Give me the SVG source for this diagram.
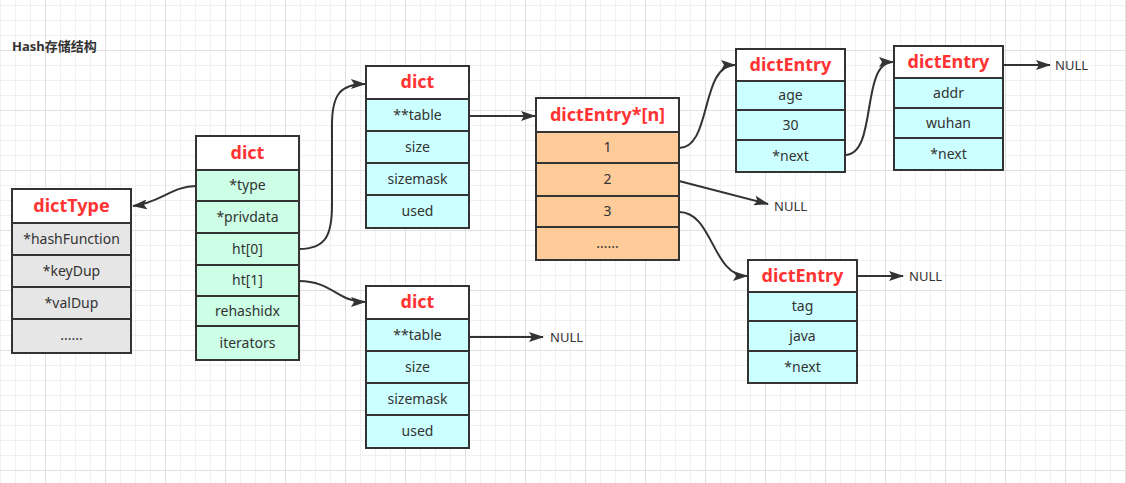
<svg xmlns="http://www.w3.org/2000/svg" width="1126" height="483" viewBox="0 0 1126 483">
<defs>
<pattern id="minor" x="0" y="5" width="15" height="15" patternUnits="userSpaceOnUse">
<path d="M0.5,0 V15 M0,0.5 H15" stroke="#f0f0f0" stroke-width="1" fill="none"/>
</pattern>
<pattern id="major" x="45" y="50" width="60" height="60" patternUnits="userSpaceOnUse">
<path d="M0.5,0 V60 M0,0.5 H60" stroke="#e0e0e0" stroke-width="1" fill="none"/>
</pattern>
<marker id="arr" viewBox="0 0 15 10" refX="14" refY="5" markerWidth="15" markerHeight="10" markerUnits="userSpaceOnUse" orient="auto">
<path d="M0,0 L15,5 L0,10 L3,5 z" fill="#333333"/>
</marker>
</defs>
<style>
.box{stroke:#333333;stroke-width:2}
.sep{stroke:#333333;stroke-width:2}
.hdr{font-family:"Noto Sans","Open Sans",sans-serif;font-weight:bold;font-size:18px;fill:#ff3333;text-anchor:middle}
.row{font-family:"Noto Sans","Open Sans",sans-serif;font-size:14px;fill:#333333;text-anchor:middle}
.null{font-family:"Noto Sans","Open Sans",sans-serif;font-size:13px;fill:#333333}
.con{fill:none;stroke:#333333;stroke-width:2;marker-end:url(#arr)}
.gray{fill:#e6e6e6}.mint{fill:#ccffe6}.cyan{fill:#ccffff}.orange{fill:#ffcc99}
</style>
<rect width="1126" height="483" fill="#ffffff"/>
<rect width="1126" height="483" fill="url(#minor)"/>
<rect width="1126" height="483" fill="url(#major)"/>
<text x="12" y="51" font-family="Noto Sans, 'Noto Sans CJK SC', sans-serif" font-weight="bold" font-size="13" fill="#333333">Hash存储结构</text>

<g id="dictType">
<rect x="12" y="189" width="119" height="34" fill="#ffffff" class="box"/>
<rect x="12" y="223" width="119" height="130" class="gray box"/>
<path d="M12,255 H131 M12,287 H131 M12,319 H131" class="sep"/>
<text x="71.5" y="212" class="hdr">dictType</text>
<text x="71.5" y="244" class="row">*hashFunction</text>
<text x="71.5" y="276" class="row">*keyDup</text>
<text x="71.5" y="308" class="row">*valDup</text>
<text x="71.5" y="340" class="row">......</text>
</g>

<g id="dict">
<rect x="196" y="136" width="103" height="34" fill="#ffffff" class="box"/>
<rect x="196" y="170" width="103" height="190" class="mint box"/>
<path d="M196,201 H299 M196,233 H299 M196,265 H299 M196,296 H299 M196,326 H299" class="sep"/>
<text x="247.5" y="159" class="hdr">dict</text>
<text x="247.5" y="190" class="row">*type</text>
<text x="247.5" y="222" class="row">*privdata</text>
<text x="247.5" y="254" class="row">ht[0]</text>
<text x="247.5" y="285" class="row">ht[1]</text>
<text x="247.5" y="316" class="row">rehashidx</text>
<text x="247.5" y="348" class="row">iterators</text>
</g>

<g id="dictHt0">
<rect x="366" y="66" width="103" height="33" fill="#ffffff" class="box"/>
<rect x="366" y="99" width="103" height="129" class="cyan box"/>
<path d="M366,131 H469 M366,163 H469 M366,195 H469" class="sep"/>
<text x="417.5" y="88" class="hdr">dict</text>
<text x="417.5" y="120" class="row">**table</text>
<text x="417.5" y="152" class="row">size</text>
<text x="417.5" y="184" class="row">sizemask</text>
<text x="417.5" y="216" class="row">used</text>
</g>

<g id="dictHt1">
<rect x="366" y="286" width="103" height="33" fill="#ffffff" class="box"/>
<rect x="366" y="319" width="103" height="129" class="cyan box"/>
<path d="M366,351 H469 M366,383 H469 M366,415 H469" class="sep"/>
<text x="417.5" y="308" class="hdr">dict</text>
<text x="417.5" y="340" class="row">**table</text>
<text x="417.5" y="372" class="row">size</text>
<text x="417.5" y="404" class="row">sizemask</text>
<text x="417.5" y="436" class="row">used</text>
</g>

<g id="dictEntryArray">
<rect x="536" y="98" width="143" height="34" fill="#ffffff" class="box"/>
<rect x="536" y="132" width="143" height="128" class="orange box"/>
<path d="M536,163 H679 M536,196 H679 M536,227 H679" class="sep"/>
<text x="607.5" y="121" class="hdr">dictEntry*[n]</text>
<text x="607.5" y="152" class="row">1</text>
<text x="607.5" y="184" class="row">2</text>
<text x="607.5" y="216" class="row">3</text>
<text x="607.5" y="248" class="row">......</text>
</g>

<g id="dictEntryAge">
<rect x="736" y="49" width="109" height="32" fill="#ffffff" class="box"/>
<rect x="736" y="81" width="109" height="91" class="cyan box"/>
<path d="M736,110 H845 M736,140 H845" class="sep"/>
<text x="790.5" y="71" class="hdr">dictEntry</text>
<text x="790.5" y="100" class="row">age</text>
<text x="790.5" y="130" class="row">30</text>
<text x="790.5" y="161" class="row">*next</text>
</g>

<g id="dictEntryAddr">
<rect x="894" y="46" width="109" height="32" fill="#ffffff" class="box"/>
<rect x="894" y="78" width="109" height="92" class="cyan box"/>
<path d="M894,108 H1003 M894,138 H1003" class="sep"/>
<text x="948.5" y="68" class="hdr">dictEntry</text>
<text x="948.5" y="98" class="row">addr</text>
<text x="948.5" y="128" class="row">wuhan</text>
<text x="948.5" y="159" class="row">*next</text>
</g>

<g id="dictEntryTag">
<rect x="748" y="260" width="109" height="32" fill="#ffffff" class="box"/>
<rect x="748" y="292" width="109" height="91" class="cyan box"/>
<path d="M748,321 H857 M748,351 H857" class="sep"/>
<text x="802.5" y="282" class="hdr">dictEntry</text>
<text x="802.5" y="311" class="row">tag</text>
<text x="802.5" y="341" class="row">java</text>
<text x="802.5" y="372" class="row">*next</text>
</g>

<g id="connectors">
<path d="M196,186 C172,186 160,203 133,206" class="con"/>
<path d="M299,249 C326,249 332,235 332,205 L332,125 C332,95 340,84 365,84" class="con"/>
<path d="M299,281 C332,281 338,302 365,302" class="con"/>
<path d="M469,116 L535,116" class="con"/>
<path d="M679,148 C712,148 700,65 735,65" class="con"/>
<path d="M845,155 C878,155 860,62 893,62" class="con"/>
<path d="M679,212 C713,212 712,276 747,276" class="con"/>
<path d="M679,181 L768,204" class="con"/>
<path d="M1003,65 L1050,65" class="con"/>
<path d="M857,276 L903,276" class="con"/>
<path d="M469,337 L543,337" class="con"/>
</g>
<text x="1055" y="70" class="null">NULL</text>
<text x="774" y="211" class="null">NULL</text>
<text x="909" y="281" class="null">NULL</text>
<text x="550" y="342" class="null">NULL</text>
</svg>
